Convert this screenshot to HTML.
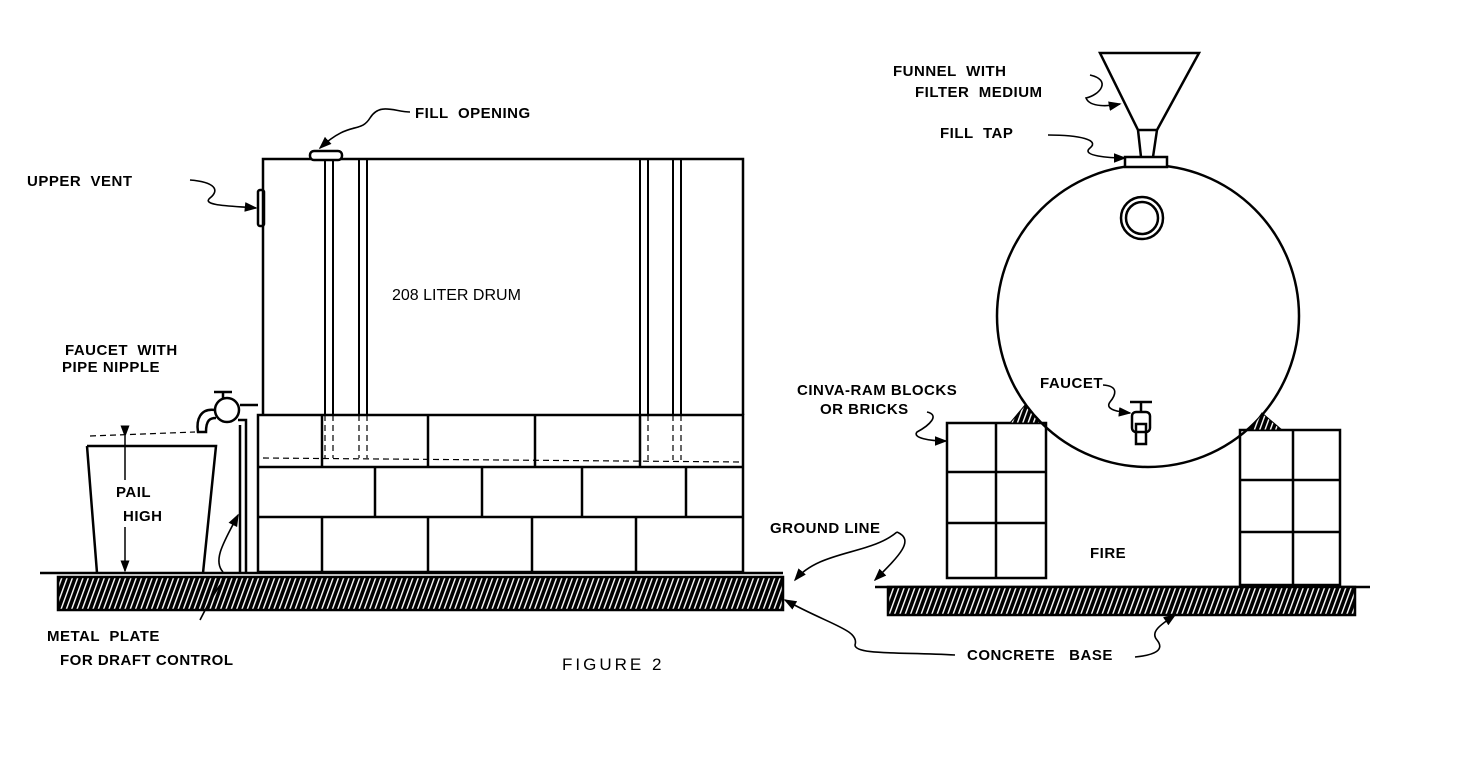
<!DOCTYPE html>
<html><head><meta charset="utf-8"><style>
html,body{margin:0;padding:0;background:#fff;}
svg{display:block;}
text{font-family:"Liberation Sans",sans-serif;font-weight:bold;font-size:15px;fill:#000;letter-spacing:0.5px;}
</style></head><body>
<svg width="1480" height="770" viewBox="0 0 1480 770" xmlns="http://www.w3.org/2000/svg">
<defs>
<pattern id="h" width="5" height="6" patternUnits="userSpaceOnUse" patternTransform="rotate(20)">
<rect width="5" height="6" fill="#000"/><rect x="0" y="0" width="1.4" height="6" fill="#fff"/>
</pattern>
<marker id="a" markerWidth="8" markerHeight="8" refX="7" refY="4" orient="auto"><path d="M0,1 L8,4 L0,7 z" fill="#000"/></marker>
</defs>
<g fill="none" stroke="#000" stroke-width="2.5">
<line x1="40" y1="573" x2="783" y2="573"/>
<rect x="58" y="577" width="725" height="33" fill="url(#h)"/>
<path d="M263,415 L263,159 L743,159 L743,415"/>
<rect x="310" y="151" width="32" height="9" rx="4" fill="#fff"/>
<rect x="258" y="190" width="6" height="36" rx="2"/>
<g stroke-width="2">
<line x1="325" y1="160" x2="325" y2="415"/><line x1="333" y1="160" x2="333" y2="415"/>
<line x1="359" y1="160" x2="359" y2="415"/><line x1="367" y1="160" x2="367" y2="415"/>
<line x1="640" y1="160" x2="640" y2="415"/><line x1="648" y1="160" x2="648" y2="415"/>
<line x1="673" y1="160" x2="673" y2="415"/><line x1="681" y1="160" x2="681" y2="415"/>
</g>
<rect x="258" y="415" width="485" height="157"/>
<line x1="258" y1="467" x2="743" y2="467"/><line x1="258" y1="517" x2="743" y2="517"/>
<line x1="322" y1="415" x2="322" y2="467"/><line x1="428" y1="415" x2="428" y2="467"/><line x1="535" y1="415" x2="535" y2="467"/><line x1="640" y1="415" x2="640" y2="467"/>
<line x1="375" y1="467" x2="375" y2="517"/><line x1="482" y1="467" x2="482" y2="517"/><line x1="582" y1="467" x2="582" y2="517"/><line x1="686" y1="467" x2="686" y2="517"/>
<line x1="322" y1="517" x2="322" y2="572"/><line x1="428" y1="517" x2="428" y2="572"/><line x1="532" y1="517" x2="532" y2="572"/><line x1="636" y1="517" x2="636" y2="572"/>
<g stroke-width="1.2" stroke-dasharray="6,4">
<path d="M263,458 L743,462"/><path d="M325,415 V458 M333,415 V458 M359,415 V458 M367,415 V458 M640,415 V460 M648,415 V460 M673,415 V460 M681,415 V460"/>
<path d="M90,436 L195,432"/>
</g>
<path d="M258,405 L240,405 M214,392 L232,392 M223,392 V405"/>
<circle cx="227" cy="410" r="12" fill="#fff"/>
<path d="M215,410 C200,408 196,420 198,432 L206,432 C206,420 210,418 216,418"/>
<path d="M238,420 H246 V573 M240,425 V573"/>
<path d="M87,446 L216,446 L203,573 M87,446 L97,573"/>
<g stroke-width="1.5"><line x1="125" y1="436" x2="125" y2="480" marker-start="url(#a)"/><line x1="125" y1="527" x2="125" y2="571" marker-end="url(#a)"/></g>
<line x1="875" y1="587" x2="1370" y2="587"/>
<rect x="888" y="587" width="467" height="28" fill="url(#h)"/>
<circle cx="1148" cy="316" r="151" fill="#fff"/>
<circle cx="1142" cy="218" r="21"/><circle cx="1142" cy="218" r="16"/>
<rect x="1125" y="157" width="42" height="10" fill="#fff"/>
<path d="M1100,53 L1199,53 L1157,130 L1138,130 Z M1138,130 L1141,157 M1157,130 L1153,157"/>
<path d="M1130,402 H1152 M1141,402 V412"/>
<rect x="1132" y="412" width="18" height="20" rx="4"/><rect x="1136" y="424" width="10" height="20"/>
<rect x="947" y="423" width="99" height="155"/><line x1="996" y1="423" x2="996" y2="578"/>
<line x1="947" y1="472" x2="1046" y2="472"/><line x1="947" y1="523" x2="1046" y2="523"/>
<rect x="1240" y="430" width="100" height="155"/><line x1="1293" y1="430" x2="1293" y2="585"/>
<line x1="1240" y1="480" x2="1340" y2="480"/><line x1="1240" y1="532" x2="1340" y2="532"/>
<path d="M1010,423 L1025,405 L1040,423 Z" fill="url(#h)" stroke-width="1"/>
<path d="M1250,430 L1262,413 L1282,430 Z" fill="url(#h)" stroke-width="1"/>
<g stroke-width="1.6">
<path d="M410,112 C395,112 380,102 370,118 C360,134 350,120 320,148" marker-end="url(#a)"/>
<path d="M190,180 C215,182 220,190 210,198 C200,206 235,206 256,208" marker-end="url(#a)"/>
<path d="M1090,75 C1112,80 1100,95 1086,98 C1090,108 1110,106 1120,104" marker-end="url(#a)"/>
<path d="M1048,135 C1080,135 1100,140 1090,148 C1080,156 1110,158 1125,158" marker-end="url(#a)"/>
<path d="M1103,385 C1120,386 1115,396 1110,402 C1104,410 1120,412 1130,413" marker-end="url(#a)"/>
<path d="M927,412 C940,415 930,425 917,432 C912,438 930,441 946,441" marker-end="url(#a)"/>
<path d="M897,532 C915,540 900,555 875,580" marker-end="url(#a)"/>
<path d="M897,532 C870,555 820,550 795,580" marker-end="url(#a)"/>
<path d="M955,655 C900,652 855,655 855,645 C860,630 830,625 785,600" marker-end="url(#a)"/>
<path d="M1135,657 C1155,655 1165,650 1157,640 C1150,632 1160,625 1175,615" marker-end="url(#a)"/>
<path d="M200,620 C205,610 210,600 220,585"/>
<path d="M223,572 C212,560 225,540 238,515" marker-end="url(#a)"/>
</g>
</g>
<text x="415" y="118">FILL&#160;&#160;OPENING</text>
<text x="27" y="186">UPPER&#160;&#160;VENT</text>
<text x="392" y="300" style="font-weight:normal;font-size:16px;letter-spacing:0">208 LITER DRUM</text>
<text x="65" y="355">FAUCET&#160;&#160;WITH</text>
<text x="62" y="372">PIPE NIPPLE</text>
<text x="116" y="497">PAIL</text>
<text x="123" y="521">HIGH</text>
<text x="47" y="641">METAL&#160;&#160;PLATE</text>
<text x="60" y="665">FOR DRAFT CONTROL</text>
<text x="562" y="670" style="font-weight:normal;font-size:17px;letter-spacing:3px">FIGURE 2</text>
<text x="770" y="533">GROUND LINE</text>
<text x="967" y="660">CONCRETE&#160;&#160;&#160;BASE</text>
<text x="1090" y="558">FIRE</text>
<text x="797" y="395">CINVA-RAM BLOCKS</text>
<text x="820" y="414">OR BRICKS</text>
<text x="1040" y="388">FAUCET</text>
<text x="893" y="76">FUNNEL&#160;&#160;WITH</text>
<text x="915" y="97">FILTER&#160;&#160;MEDIUM</text>
<text x="940" y="138">FILL&#160;&#160;TAP</text>
</svg>
</body></html>
